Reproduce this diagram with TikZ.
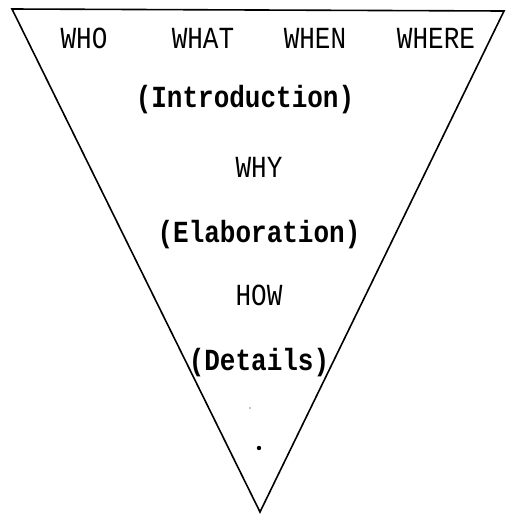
\documentclass[tikz,border=0pt]{standalone}
\usepackage{fontspec}
\setmonofont{Liberation Mono}
\newcommand{\talltext}[1]{\scalebox{1}[1.18]{#1}}
\begin{document}
\begin{tikzpicture}[x=1pt,y=-1pt,
  captext/.style={font=\ttfamily\fontsize{26}{26}\selectfont, anchor=base, inner sep=0pt},
  parentext/.style={font=\ttfamily\bfseries\fontsize{26}{26}\selectfont, anchor=base, inner sep=0pt},
  funnel/.style={line width=1.6pt, line join=miter}]
\useasboundingbox (0,0) rectangle (506,515);
\coordinate (tl) at (12,9);
\coordinate (tr) at (504,11);
\coordinate (bt) at (260,512);
\draw[funnel] (tl) -- (tr) -- (bt) -- cycle;
\node[captext] (who) at (84,48) {\talltext{WHO}};
\node[captext] (what) at (203,48) {\talltext{WHAT}};
\node[captext] (when) at (315,48) {\talltext{WHEN}};
\node[captext] (where) at (436,48) {\talltext{WHERE}};
\node[parentext] (intro) at (245,107) {\talltext{(Introduction)}};
\node[captext] (why) at (259,177) {\talltext{WHY}};
\node[parentext] (elab) at (259,242) {\talltext{(Elaboration)}};
\node[captext] (how) at (259,305) {\talltext{HOW}};
\node[parentext] (det) at (259,370) {\talltext{(Details)}};
\fill (250,408) circle (0.7);
\fill (259,448) circle (2.2);
\end{tikzpicture}
\end{document}
